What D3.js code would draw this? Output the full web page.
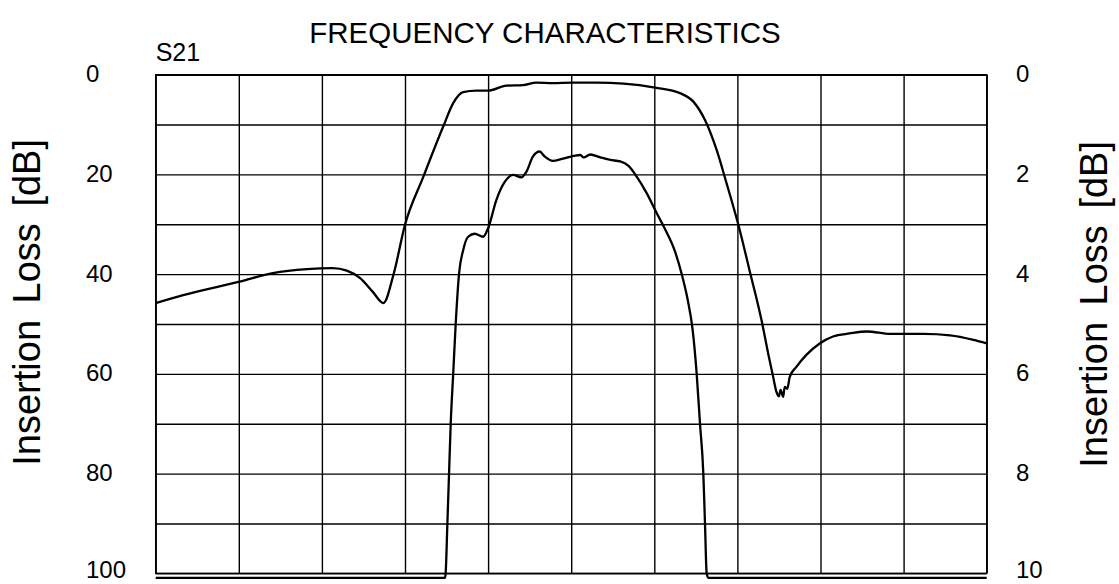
<!DOCTYPE html>
<html>
<head>
<meta charset="utf-8">
<script src="https://cdn.jsdelivr.net/npm/d3@7"></script>
<style>
  body { margin: 0; background: #fff; }
  text { font-family: "Liberation Sans", Arial, sans-serif; fill: #000; }
</style>
</head>
<body>
<div id="chart"></div>
<script>
var svgWidth = 1119;
var svgHeight = 584;

// plot frame (10 x 10 grid)
var plot = { left: 155.7, right: 986.7, top: 74.7, bottom: 573.3 };

// tick labels
var leftTicks = [0, 20, 40, 60, 80, 100];
var rightTicks = [0, 2, 4, 6, 8, 10];

// S21 wide span, left axis (dB)
var wideFreq = [0, 0.33, 1.01, 1.41, 1.82, 2.13, 2.30, 2.46, 2.61, 2.74, 2.86, 3.00, 3.22, 3.46, 3.58, 3.70,
  3.86, 4.00, 4.22, 4.42, 4.58, 4.78, 5.01, 5.31, 5.63, 6.01, 6.31, 6.47, 6.61, 6.75, 6.87, 7.01, 7.15,
  7.29, 7.37, 7.43, 7.47, 7.50, 7.52, 7.55, 7.57, 7.60, 7.63, 7.71, 7.83, 7.99, 8.15, 8.35, 8.56, 8.84,
  9.04, 9.24, 9.56, 9.84, 10.0];
var wideLoss = [45.8, 44.2, 41.5, 39.8, 39.0, 38.8, 39.3, 40.8, 43.5, 45.8, 40.2, 30.1, 20.5, 10.4, 5.7, 3.5,
  3.2, 3.2, 2.2, 2.1, 1.6, 1.7, 1.6, 1.6, 1.8, 2.6, 3.7, 5.4, 9.1, 15.1, 21.8, 30.0, 39.5,
  49.2, 55.9, 60.6, 63.6, 64.5, 63.2, 64.6, 62.6, 63.0, 60.6, 58.6, 56.2, 53.9, 52.5, 51.9, 51.5, 52.0,
  52.0, 52.0, 52.3, 53.2, 53.9];

// S21 passband, right axis (dB)
var passFreq = [0, 3.48, 3.489, 3.51, 3.53, 3.55, 3.58, 3.61, 3.65, 3.70, 3.76, 3.84, 3.94, 4.00, 4.10, 4.20,
  4.30, 4.40, 4.46, 4.54, 4.62, 4.68, 4.78, 4.89, 5.03, 5.11, 5.15, 5.23, 5.35, 5.47, 5.59, 5.69, 5.79,
  5.91, 6.03, 6.13, 6.25, 6.33, 6.40, 6.46, 6.51, 6.55, 6.59, 6.61, 6.63, 6.65, 10.0];
var passLoss = [10.09, 10.09, 10.0, 9.0, 8.0, 7.0, 6.0, 5.0, 4.0, 3.52, 3.25, 3.19, 3.25, 3.08, 2.51, 2.15,
  2.01, 2.06, 1.95, 1.64, 1.54, 1.64, 1.73, 1.69, 1.63, 1.61, 1.66, 1.60, 1.66, 1.71, 1.74, 1.83, 2.05,
  2.38, 2.78, 3.1, 3.55, 4.0, 4.5, 5.1, 6.0, 7.0, 8.0, 9.0, 10.0, 10.09, 10.09];

var svg = d3.select("#chart")
    .append("svg")
    .attr("width", svgWidth)
    .attr("height", svgHeight);

var xScale = d3.scaleLinear().domain([0, 10]).range([plot.left, plot.right]);
var yLeft = d3.scaleLinear().domain([0, 100]).range([plot.top, plot.bottom]);
var yRight = d3.scaleLinear().domain([0, 10]).range([plot.top, plot.bottom]);

var plotW = plot.right - plot.left;
var plotH = plot.bottom - plot.top;

// keep the bottom labels inside the picture
var labelY = y => Math.min(y + 7.5, 578);

// vertical grid lines
svg.append("g")
    .attr("transform", `translate(0, ${plot.bottom})`)
    .call(d3.axisBottom(xScale).ticks(10).tickSize(plotH).tickFormat(""))
    .call(g => g.select(".domain").remove())
    .call(g => g.selectAll("line").attr("transform", `translate(0, ${-plotH})`));

// horizontal grid lines
svg.append("g")
    .attr("transform", `translate(${plot.left}, 0)`)
    .call(d3.axisRight(yLeft).ticks(10).tickSize(plotW).tickFormat(""))
    .call(g => g.select(".domain").remove());

svg.selectAll("g line")
    .attr("stroke", "#000")
    .attr("stroke-width", 1.4);

// frame
svg.append("rect")
    .attr("x", plot.left)
    .attr("y", plot.top)
    .attr("width", plotW)
    .attr("height", plotH)
    .attr("fill", "none")
    .attr("stroke", "#000")
    .attr("stroke-width", 1.4);

// left tick labels
svg.append("g").selectAll("text")
    .data(leftTicks)
    .enter().append("text")
    .attr("x", 86)
    .attr("y", d => labelY(yLeft(d)))
    .attr("font-size", 24)
    .text(d => d);

// right tick labels
svg.append("g").selectAll("text")
    .data(rightTicks)
    .enter().append("text")
    .attr("x", 1016)
    .attr("y", d => labelY(yRight(d)))
    .attr("font-size", 24)
    .text(d => d);

// curves
var wideLine = d3.line()
    .x(d => xScale(d[0]))
    .y(d => yLeft(d[1]))
    .curve(d3.curveMonotoneX);

var passLine = d3.line()
    .x(d => xScale(d[0]))
    .y(d => yRight(d[1]))
    .curve(d3.curveMonotoneX);

svg.append("path")
    .datum(wideFreq.map((f, i) => [f, wideLoss[i]]))
    .attr("d", wideLine)
    .attr("fill", "none")
    .attr("stroke", "#000")
    .attr("stroke-width", 2.3);

svg.append("path")
    .datum(passFreq.map((f, i) => [f, passLoss[i]]))
    .attr("d", passLine)
    .attr("fill", "none")
    .attr("stroke", "#000")
    .attr("stroke-width", 2.3);

// titles
svg.append("text")
    .attr("x", 545)
    .attr("y", 43)
    .attr("text-anchor", "middle")
    .attr("font-size", 29.5)
    .text("FREQUENCY CHARACTERISTICS");

svg.append("text")
    .attr("x", plot.left)
    .attr("y", 61)
    .attr("font-size", 25)
    .text("S21");

svg.append("text")
    .attr("transform", "translate(40, 139) rotate(-90)")
    .attr("text-anchor", "end")
    .attr("font-size", 38)
    .attr("word-spacing", 6)
    .text("Insertion Loss [dB]");

svg.append("text")
    .attr("transform", "translate(1107, 141) rotate(-90)")
    .attr("text-anchor", "end")
    .attr("font-size", 38)
    .attr("word-spacing", 6)
    .text("Insertion Loss [dB]");
</script>
</body>
</html>
